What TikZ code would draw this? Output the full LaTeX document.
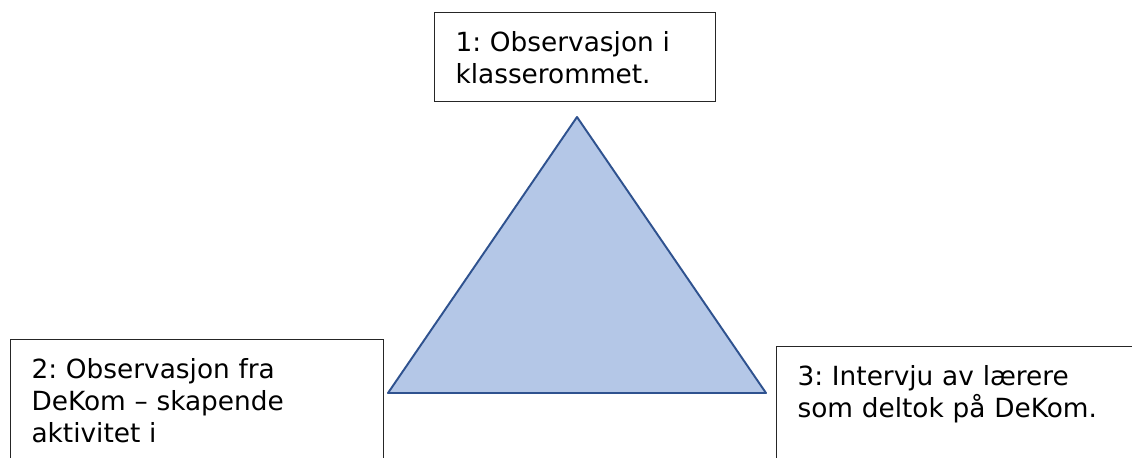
\documentclass[tikz,border=0pt]{standalone}
\usepackage{fontspec}
\setmainfont{DejaVu Sans}
\usetikzlibrary{positioning}
\usepackage{xcolor}
\definecolor{trifill}{HTML}{B4C7E7}
\definecolor{triline}{HTML}{2F528F}
\definecolor{boxline}{HTML}{262626}
\frenchspacing
\tikzset{
  textbox/.style={draw=boxline, line width=0.6pt, anchor=north west, align=left,
    inner xsep=0.42cm, inner ysep=0.37cm, font=\fontsize{15}{18.2}\selectfont},
  triangle/.style={draw=triline, fill=trifill, line width=1.1pt, line join=round}
}
\begin{document}
\begin{tikzpicture}[x=0.02cm, y=-0.02cm]
  \clip (0,0) rectangle (1132,457);
  \fill[white] (0,0) rectangle (1132,457);
  \node[textbox, text width=4.78cm, minimum height=1.78cm] (obs1) at (434,12) {1: Observasjon i\\klasserommet.};
  \node[textbox, text width=6.62cm, text depth=3cm] (obs2) at (10,339) {2: Observasjon fra\\DeKom -- skapende\\aktivitet i};
  \node[textbox, text width=8cm, text depth=3cm] (obs3) at (776,346) {3: Intervju av lærere\\som deltok på DeKom.};
  \coordinate (top) at (577,117);
  \coordinate (left) at (388,393);
  \coordinate (right) at (766,393);
  \draw[triangle] (top) -- (left) -- (right) -- cycle;
\end{tikzpicture}
\end{document}
